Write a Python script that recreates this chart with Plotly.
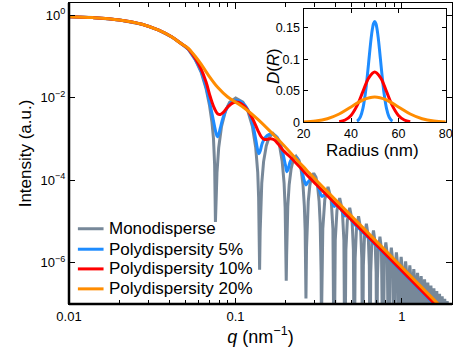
import math
import plotly.graph_objects as go

# Scattered intensity I(q) of spheres: (q in nm^-1, intensity in a.u.)
mono_pts = [
    (0.01, 0.932), (0.01387, 0.882), (0.02005, 0.776), (0.02744, 0.611),
    (0.03459, 0.4377), (0.04131, 0.3017), (0.04736, 0.2045), (0.05209, 0.1500),
    (0.05732, 0.0841), (0.06218, 0.04197), (0.06659, 0.01678), (0.06986, 6.53e-3),
    (0.07228, 2.54e-3), (0.07378, 1.043e-3), (0.07499, 2.326e-4), (0.07542, 5.80e-5),
    (0.07581, 9.8e-6),
    (0.07665, 3.91e-5), (0.07748, 1.55e-4), (0.0793, 6.12e-4), (0.0825, 2.04e-3),
    (0.08726, 4.94e-3), (0.09226, 7.83e-3), (0.1003, 9.90e-3), (0.1108, 7.83e-3),
    (0.1185, 4.94e-3), (0.1264, 2.04e-3), (0.1324, 6.12e-4), (0.1361, 1.55e-4),
    (0.1378, 3.91e-5),
    (0.1397, 6.81e-7),
    (0.1407, 5.43e-6), (0.1418, 2.16e-5), (0.1439, 8.51e-5), (0.1476, 2.84e-4),
    (0.1532, 6.89e-4), (0.1589, 1.091e-3), (0.168, 1.377e-3), (0.1775, 1.091e-3),
    (0.1842, 6.89e-4), (0.191, 2.84e-4), (0.196, 8.51e-5), (0.1989, 2.16e-5),
    (0.2004, 5.43e-6),
    (0.2019, 3.69e-7),
    (0.203, 1.511e-6), (0.2041, 6.02e-6), (0.2063, 2.37e-5), (0.2103, 7.90e-5),
    (0.2161, 1.918e-4), (0.2221, 3.037e-4), (0.2314, 3.835e-4), (0.241, 3.037e-4),
    (0.2477, 1.918e-4), (0.2545, 7.90e-5), (0.2594, 2.37e-5), (0.2623, 6.02e-6),
    (0.2637, 1.511e-6),
    (0.2652, 1.358e-7),
    (0.2663, 5.88e-7), (0.2674, 2.34e-6), (0.2698, 9.22e-6), (0.2738, 3.07e-5),
    (0.2798, 7.46e-5), (0.2858, 1.182e-4), (0.2951, 1.492e-4), (0.3048, 1.182e-4),
    (0.3114, 7.46e-5), (0.3182, 3.07e-5), (0.3229, 9.22e-6), (0.3257, 2.34e-6),
    (0.3271, 5.88e-7),
    (0.3285, 3e-8),
    (0.3348, 6.60e-6), (0.3443, 3.455e-5), (0.36, 6.91e-5), (0.3758, 3.455e-5), (0.3852, 6.60e-6),
    (0.3915, 1e-9), (0.3978, 3.53e-6), (0.4073, 1.85e-5), (0.423, 3.70e-5), (0.4388, 1.85e-5), (0.4482, 3.53e-6),
    (0.4545, 1e-9), (0.4608, 2.07e-6), (0.4703, 1.082e-5), (0.486, 2.163e-5), (0.5018, 1.082e-5), (0.5112, 2.07e-6),
    (0.5175, 1e-9), (0.5238, 1.29e-6), (0.5333, 6.75e-6), (0.549, 1.35e-5), (0.5648, 6.75e-6), (0.5742, 1.29e-6),
    (0.5805, 1e-9), (0.5868, 8.47e-7), (0.5963, 4.44e-6), (0.612, 8.87e-6), (0.6278, 4.44e-6), (0.6372, 8.47e-7),
    (0.6435, 1e-9), (0.6498, 5.80e-7), (0.6593, 3.04e-6), (0.675, 6.07e-6), (0.6908, 3.04e-6), (0.7002, 5.80e-7),
    (0.7065, 1e-9), (0.7128, 4.11e-7), (0.7223, 2.15e-6), (0.738, 4.30e-6), (0.7538, 2.15e-6), (0.7632, 4.11e-7),
    (0.7695, 1e-9), (0.7853, 1.565e-6), (0.801, 3.13e-6), (0.8168, 1.565e-6),
    (0.8325, 1e-9), (0.8483, 1.168e-6), (0.864, 2.335e-6), (0.8798, 1.168e-6),
    (0.8955, 1e-9), (0.9113, 8.89e-7), (0.927, 1.778e-6), (0.9428, 8.89e-7),
    (0.9585, 1e-9), (0.9743, 6.90e-7), (0.99, 1.379e-6), (1.0058, 6.90e-7),
    (1.0215, 1e-9), (1.0373, 5.43e-7), (1.053, 1.086e-6), (1.0688, 5.43e-7),
    (1.0845, 1e-9), (1.1003, 4.34e-7), (1.116, 8.67e-7), (1.1318, 4.34e-7),
    (1.1475, 1e-9), (1.1633, 3.51e-7), (1.179, 7.01e-7), (1.1948, 3.51e-7),
    (1.2105, 1e-9), (1.2263, 2.87e-7), (1.242, 5.73e-7), (1.2578, 2.87e-7),
    (1.2735, 1e-9), (1.2893, 2.37e-7), (1.305, 4.73e-7), (1.3208, 2.37e-7),
    (1.3365, 1e-9), (1.3523, 1.97e-7), (1.368, 3.94e-7), (1.3838, 1.97e-7),
    (1.3995, 1e-9), (1.4153, 1.655e-7), (1.431, 3.31e-7), (1.4468, 1.655e-7),
    (1.4625, 1e-9), (1.4783, 1.405e-7), (1.494, 2.81e-7), (1.5098, 1.405e-7),
    (1.5255, 1e-9), (1.5413, 1.195e-7), (1.557, 2.39e-7), (1.5728, 1.195e-7),
    (1.5885, 1e-9), (1.6043, 1.025e-7), (1.62, 2.05e-7), (1.6358, 1.025e-7),
    (1.6515, 1e-9), (1.6673, 8.85e-8), (1.683, 1.769e-7), (1.6988, 8.85e-8),
    (1.7145, 1e-9), (1.7303, 7.68e-8), (1.746, 1.535e-7), (1.7618, 7.68e-8),
    (1.7775, 1e-9), (1.7933, 6.69e-8), (1.809, 1.338e-7), (1.8248, 6.69e-8),
    (1.8405, 1e-9), (1.8563, 5.86e-8), (1.872, 1.172e-7), (1.8878, 5.86e-8),
    (1.9035, 1e-9), (1.9193, 5.16e-8), (1.935, 1.031e-7), (1.9508, 5.16e-8),
    (1.9665, 1e-9), (1.9823, 4.55e-8), (1.998, 9.1e-8), (2.0138, 4.55e-8),
    (2.0295, 1e-9),
]

poly5_pts = [
    (0.01, 0.932), (0.01387, 0.882), (0.02005, 0.776), (0.02744, 0.611),
    (0.03459, 0.4377), (0.04131, 0.3017), (0.04736, 0.2045), (0.05209, 0.1520),
    (0.05731, 0.0864), (0.0622, 0.0444), (0.06615, 0.0204), (0.06938, 9.11e-3),
    (0.07228, 4.18e-3), (0.07479, 2.09e-3), (0.07665, 1.339e-3), (0.07791, 1.133e-3),
    (0.0793, 1.302e-3), (0.08116, 1.868e-3), (0.08398, 3.17e-3), (0.08809, 5.22e-3),
    (0.09367, 7.50e-3), (0.1003, 8.61e-3), (0.1073, 8.15e-3), (0.1149, 6.35e-3),
    (0.1222, 3.96e-3), (0.1282, 1.92e-3), (0.133, 8.83e-4), (0.1363, 5.21e-4),
    (0.1386, 4.41e-4), (0.141, 5.21e-4), (0.1449, 7.90e-4), (0.151, 1.102e-3),
    (0.1594, 1.302e-3), (0.1684, 1.302e-3), (0.1778, 1.102e-3), (0.1853, 7.90e-4),
    (0.193, 4.41e-4), (0.1997, 2.326e-4), (0.2038, 1.621e-4), (0.208, 1.969e-4),
    (0.2138, 2.906e-4), (0.2227, 3.63e-4), (0.2321, 3.53e-4), (0.2417, 2.67e-4),
    (0.2518, 1.577e-4), (0.2598, 9.56e-5), (0.2652, 7.74e-5), (0.2725, 9.05e-5),
    (0.2827, 1.039e-4), (0.2953, 1.028e-4), (0.3068, 8.56e-5), (0.3197, 5.80e-5),
    (0.3299, 4.09e-5), (0.3422, 4.39e-5), (0.3594, 4.49e-5), (0.3765, 3.42e-5),
    (0.3917, 2.33e-5), (0.4058, 2.52e-5), (0.4222, 2.27e-5), (0.4375, 1.757e-5),
    (0.4551, 1.375e-5), (0.4716, 1.406e-5), (0.488, 1.224e-5), (0.5049, 9.80e-6),
    (0.5239, 8.20e-6), (0.567, 6.11e-6), (0.914, 8.74e-7), (1.577, 9.47e-8),
    (1.989, 3.68e-8),
]

poly10_pts = [
    (0.01, 0.932), (0.01387, 0.882), (0.02005, 0.776), (0.02744, 0.611),
    (0.03459, 0.4377), (0.04131, 0.3017), (0.04736, 0.2045), (0.05209, 0.1540),
    (0.05731, 0.0914), (0.0622, 0.0496), (0.0666, 0.0241), (0.07082, 0.01018),
    (0.07479, 5.52e-3), (0.07844, 4.07e-3), (0.08116, 3.96e-3), (0.08455, 4.42e-3),
    (0.0899, 6.00e-3), (0.09757, 7.71e-3), (0.1045, 7.71e-3), (0.1118, 6.52e-3),
    (0.1197, 4.67e-3), (0.1282, 2.84e-3), (0.1363, 1.627e-3), (0.143, 1.133e-3),
    (0.1489, 9.86e-4), (0.1552, 9.86e-4), (0.1628, 1.014e-3), (0.1708, 9.59e-4),
    (0.1803, 7.68e-4), (0.193, 5.36e-4), (0.2095, 3.94e-4), (0.2273, 2.83e-4),
    (0.2501, 1.863e-4), (0.2751, 1.228e-4), (0.3068, 7.87e-5), (0.6956, 2.81e-6),
    (1.566, 1.029e-7), (1.989, 3.89e-8),
]

poly20_pts = [
    (0.01, 0.932), (0.01387, 0.882), (0.02005, 0.776), (0.02744, 0.611),
    (0.03459, 0.4377), (0.04131, 0.3017), (0.04736, 0.2045), (0.05209, 0.1593),
    (0.05731, 0.1021), (0.0622, 0.06545), (0.06844, 0.03653), (0.07844, 0.01774),
    (0.0899, 0.01046), (0.1031, 7.29e-3), (0.1181, 4.94e-3), (0.1354, 3.08e-3),
    (0.1552, 1.817e-3), (0.1778, 1.043e-3), (0.2038, 5.82e-4), (0.2336, 3.16e-4),
    (0.2677, 1.762e-4), (0.3068, 9.83e-5), (0.6956, 3.45e-6), (1.62, 1.082e-7),
    (1.989, 4.68e-8),
]

# Radius distributions D(R) shown in the inset
radius_5 = [42.5, 43, 44, 45, 46, 46.5, 47, 47.5, 48, 48.5, 49, 49.5, 50,
            50.5, 51, 51.5, 52, 52.5, 53, 53.5, 54, 55, 56, 57, 57.5]
dist_5 = [0.00177, 0.00317, 0.00896, 0.0216, 0.0444, 0.0599, 0.0777, 0.0968,
          0.1159, 0.1333, 0.1473, 0.1564, 0.1596, 0.1564, 0.1473, 0.1333,
          0.1159, 0.0968, 0.0777, 0.0599, 0.0444, 0.0216, 0.00896, 0.00317, 0.00177]
radius_10 = [35, 37.5, 40, 42.5, 45, 47.5, 50, 52.5, 55, 57.5, 60, 62.5, 65]
dist_10 = [0.00089, 0.0035, 0.0108, 0.0259, 0.0484, 0.0704, 0.0798,
           0.0704, 0.0484, 0.0259, 0.0108, 0.0035, 0.00089]
radius_20 = [20, 25, 30, 35, 40, 45, 50, 55, 60, 65, 70, 75, 80]
dist_20 = [0.00044, 0.00175, 0.0054, 0.01296, 0.0242, 0.0352, 0.0399,
           0.0352, 0.0242, 0.01296, 0.0054, 0.00175, 0.00044]

series_names = ["Monodisperse", "Polydispersity 5%", "Polydispersity 10%", "Polydispersity 20%"]
series_colors = ["#778899", "#1E8CFF", "#FF0000", "#FF8C00"]

FONT = "Liberation Sans, Arial, Helvetica, sans-serif"

fig = go.Figure()

main_series = [mono_pts, poly5_pts, poly10_pts, poly20_pts]
for name, pts, color in zip(series_names, main_series, series_colors):
    fig.add_trace(go.Scatter(
        x=[p[0] for p in pts], y=[p[1] for p in pts],
        mode="lines", name=name, showlegend=False,
        line=dict(color=color, width=3,
                  shape="linear" if name == "Monodisperse" else "spline"),
        xaxis="x", yaxis="y",
    ))

inset_series = [(radius_5, dist_5), (radius_10, dist_10), (radius_20, dist_20)]
for (r, d), color in zip(inset_series, series_colors[1:]):
    fig.add_trace(go.Scatter(
        x=r, y=d, mode="lines", showlegend=False,
        line=dict(color=color, width=3, shape="spline"),
        xaxis="x2", yaxis="y2",
    ))

minor_q = [0.02, 0.03, 0.04, 0.05, 0.06, 0.07, 0.08, 0.09,
           0.2, 0.3, 0.4, 0.5, 0.6, 0.7, 0.8, 0.9, 2]

axis_common = dict(showline=True, linecolor="black", linewidth=1.3, mirror="ticks",
                   ticks="inside", tickcolor="black", tickwidth=1.2,
                   showgrid=False, zeroline=False)

# Legend key: short line sample + label per series, stacked in the lower left
legend_rows_y = [0.25, 0.182, 0.1166, 0.0503]
shapes = [
    dict(type="line", xref="paper", yref="paper", x0=0, x1=0, y0=0, y1=1,
         line=dict(color="black", width=2.5), layer="above"),
    dict(type="line", xref="paper", yref="paper", x0=0, x1=1, y0=0, y1=0,
         line=dict(color="black", width=2.5), layer="above"),
]
annotations = [
    dict(text="<i>D</i>(<i>R</i>)", textangle=-90, showarrow=False,
         xref="paper", yref="paper", x=0.5335, y=0.7914,
         xanchor="center", yanchor="middle", font=dict(size=17)),
    dict(text="Radius (nm)", showarrow=False,
         xref="paper", yref="paper", x=0.7912, y=0.5115,
         xanchor="center", yanchor="middle", font=dict(size=17)),
]
for name, color, ry in zip(series_names, series_colors, legend_rows_y):
    shapes.append(dict(type="line", xref="paper", yref="paper",
                       x0=0.0232, x1=0.0902, y0=ry, y1=ry,
                       line=dict(color=color, width=3), layer="above"))
    annotations.append(dict(text=name, showarrow=False, xref="paper", yref="paper",
                            x=0.1005, y=ry, xanchor="left", yanchor="middle",
                            font=dict(size=17)))

fig.update_layout(
    width=461, height=357,
    margin=dict(l=69, r=4, t=2, b=53),
    paper_bgcolor="white", plot_bgcolor="white",
    font=dict(family=FONT, color="black", size=13),
    showlegend=False,
    xaxis=dict(
        type="log", range=[-2, math.log10(2)],
        tickvals=[0.01, 0.1, 1], ticktext=["0.01", "0.1", "1"], ticklen=6,
        tickfont=dict(size=13),
        minor=dict(tickvals=minor_q, ticks="inside", ticklen=3.5,
                   tickcolor="black", tickwidth=1, showgrid=False),
        title=dict(text="<i>q</i> (nm<sup>−1</sup>)", font=dict(size=18), standoff=7),
        **axis_common,
    ),
    yaxis=dict(
        type="log", range=[-7, 0.3],
        tickvals=[1e-6, 1e-4, 1e-2, 1],
        ticktext=["10<sup>−6</sup>", "10<sup>−4</sup>", "10<sup>−2</sup>", "10<sup>0</sup>"],
        ticklen=6, tickfont=dict(size=13),
        title=dict(text="Intensity (a.u.)", font=dict(size=17), standoff=4),
        **axis_common,
    ),
    xaxis2=dict(
        domain=[0.6126, 0.9838], anchor="y2", range=[20, 80],
        tickvals=[20, 40, 60, 80], ticklen=4, tickfont=dict(size=12.5),
        **axis_common,
    ),
    yaxis2=dict(
        domain=[0.604, 0.981], anchor="x2", range=[0, 0.18],
        tickvals=[0, 0.05, 0.1, 0.15], ticktext=["0", "0.05", "0.1", "0.15"],
        ticklen=4, tickfont=dict(size=12.5),
        **axis_common,
    ),
    annotations=annotations,
    shapes=shapes,
)

fig.write_html("out.html")
